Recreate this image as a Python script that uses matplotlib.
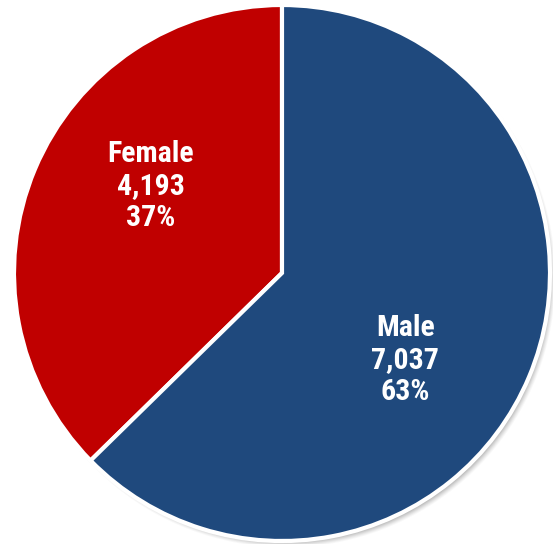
import matplotlib
matplotlib.use("Agg")
import matplotlib.pyplot as plt
import numpy as np
from matplotlib import font_manager

labels = ["Female", "Male"]
counts = [4193, 7037]
percents = [37, 63]
colors = ["#C00000", "#1F497D"]

W, H = 553, 544
cx, cy, R = 282, 273, 268

# narrow bold face for the slice labels
installed = {f.name for f in font_manager.fontManager.ttflist}
family = "DejaVu Sans"
for cand in ["Liberation Sans Narrow", "Arial Narrow", "Roboto Condensed",
             "Archivo Narrow", "Asap Condensed"]:
    if cand in installed:
        family = cand
        break

fig = plt.figure(figsize=(W / 100, H / 100), dpi=100)
ax = fig.add_axes([0, 0, 1, 1])
ax.set_xlim(0, W)
ax.set_ylim(H, 0)
ax.set_axis_off()

# soft drop shadow below and to the right of the pie
yy, xx = np.mgrid[0:H, 0:W] + 0.5
d = np.hypot(xx - (cx + 4), yy - (cy + 5))
alpha = np.clip((R + 2 - d) / 10.0, 0, 1) ** 1.3 * 0.7
shadow = np.zeros((H, W, 4))
shadow[..., :3] = 0.3
shadow[..., 3] = alpha
ax.imshow(shadow, extent=(0, W, H, 0), interpolation="bilinear", zorder=0)

pie_ax = fig.add_axes([(cx - R) / W, 1 - (cy + R) / H, 2 * R / W, 2 * R / H])
pie_ax.set_axis_off()
wedges, _ = pie_ax.pie(
    counts,
    colors=colors,
    startangle=90,
    counterclock=True,
    radius=1.0,
    wedgeprops=dict(edgecolor="white", linewidth=3),
)
pie_ax.set_xlim(-1, 1)
pie_ax.set_ylim(-1, 1)
pie_ax.set_aspect("auto")

label_pos = [(-0.49, 0.325), (0.46, -0.325)]
for (x, y), name, n, p in zip(label_pos, labels, counts, percents):
    pie_ax.text(
        x, y, f"{name}\n{n:,}\n{p}%",
        ha="center", va="center", color="white",
        fontsize=21.5, fontweight="bold", family=[family, "DejaVu Sans"],
        fontstretch="condensed", linespacing=1.2,
    )

fig.savefig("out.png", dpi=100)
